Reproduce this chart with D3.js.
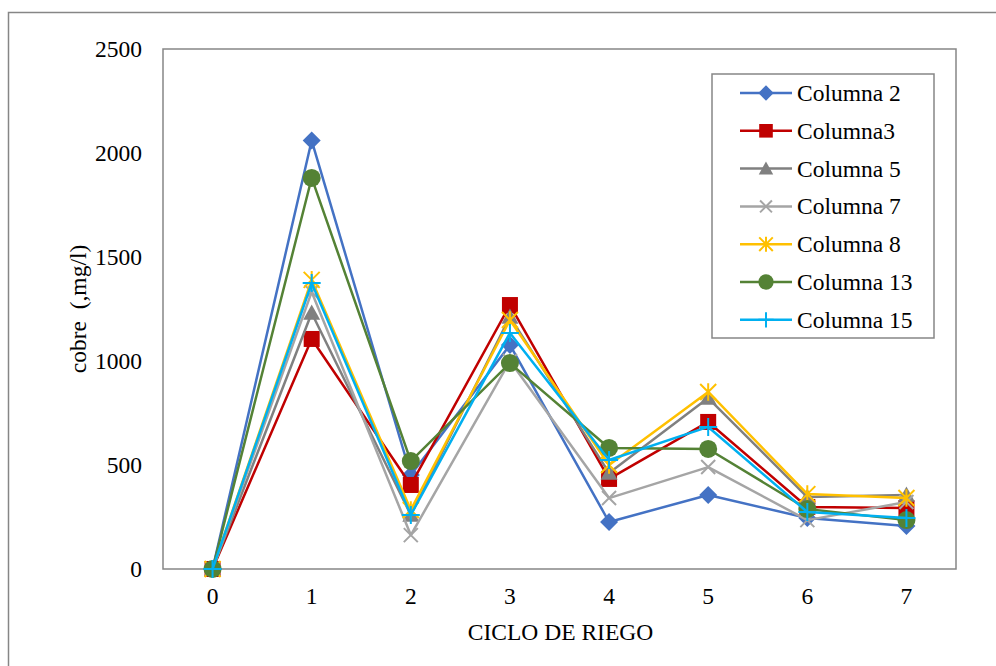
<!DOCTYPE html>
<html>
<head>
<meta charset="utf-8">
<script src="https://cdn.jsdelivr.net/npm/d3@7"></script>
<style>
  html, body { margin: 0; padding: 0; background: #fff; }
  svg { display: block; }
  text { font-family: "Liberation Serif", "Times New Roman", serif; fill: #000; }
</style>
</head>
<body>
<svg id="chart" width="996" height="666"></svg>
<script>
// Copper concentration per irrigation cycle
const cycles = [0, 1, 2, 3, 4, 5, 6, 7];
const yTicks = [0, 500, 1000, 1500, 2000, 2500];

const columna2  = [0, 2060, 452, 1077, 226, 356, 245, 207];
const columna3  = [0, 1106, 404, 1269, 433, 707, 298, 293];
const columna5  = [0, 1231, 260, 1212, 462, 822, 346, 356];
const columna7  = [0, 1332, 163, 1000, 341, 490, 235, 322];
const columna8  = [0, 1390, 284, 1197, 500, 851, 360, 341];
const columna13 = [0, 1880, 519, 990, 582, 577, 288, 235];
const columna15 = [0, 1375, 260, 1135, 524, 683, 274, 245];

const seriesNames = ["Columna 2", "Columna3", "Columna 5", "Columna 7", "Columna 8", "Columna 13", "Columna 15"];
const seriesValues = [columna2, columna3, columna5, columna7, columna8, columna13, columna15];
const seriesColors = ["#4472C4", "#C00000", "#808080", "#A5A5A5", "#FFC000", "#548235", "#00B0F0"];
const seriesMarkers = ["diamond", "square", "triangle", "x", "asterisk", "circle", "plus"];

const FONT = "23.5px";
const svg = d3.select("#chart");

// outer chart frame
svg.append("rect")
  .attr("x", 8.5).attr("y", 12.5).attr("width", 1000).attr("height", 700)
  .attr("fill", "none").attr("stroke", "#868686").attr("stroke-width", 1.5);

const plot = { left: 163, top: 49, right: 956, bottom: 569 };

const x = d3.scaleBand().domain(cycles).range([plot.left, plot.right]);
const y = d3.scaleLinear().domain([0, 2500]).range([plot.bottom, plot.top]);
const cx = d => x(d) + x.bandwidth() / 2;

// plot area border
svg.append("rect")
  .attr("x", plot.left).attr("y", plot.top)
  .attr("width", plot.right - plot.left).attr("height", plot.bottom - plot.top)
  .attr("fill", "none").attr("stroke", "#868686").attr("stroke-width", 1.5);

// axes (labels only, lines come from the border)
const yAxis = svg.append("g")
  .attr("transform", `translate(${plot.left},0)`)
  .call(d3.axisLeft(y).tickValues(yTicks).tickSize(0).tickPadding(21).tickFormat(d3.format("d")));
yAxis.select(".domain").remove();
yAxis.attr("font-family", null).attr("font-size", null);
yAxis.selectAll("text").style("font-size", FONT);

const xAxis = svg.append("g")
  .attr("transform", `translate(0,${plot.bottom})`)
  .call(d3.axisBottom(x).tickSize(0).tickPadding(18));
xAxis.select(".domain").remove();
xAxis.attr("font-family", null).attr("font-size", null);
xAxis.selectAll("text").style("font-size", FONT);

// axis titles
svg.append("text")
  .attr("transform", `translate(86,${(plot.top + plot.bottom) / 2}) rotate(-90)`)
  .attr("text-anchor", "middle")
  .style("font-size", FONT)
  .attr("xml:space", "preserve")
  .text("cobre  (,mg/l)");

svg.append("text")
  .attr("x", (plot.left + plot.right) / 2 + 1).attr("y", 640)
  .attr("text-anchor", "middle")
  .style("font-size", FONT)
  .text("CICLO DE RIEGO");

// marker drawing
function drawMarker(g, type, color, px, py, legend) {
  const s = legend ? 0.85 : 1;
  switch (type) {
    case "diamond": {
      const r = 9 * s;
      g.append("path").attr("d", `M${px},${py - r}L${px + r},${py}L${px},${py + r}L${px - r},${py}Z`)
        .attr("fill", color);
      break;
    }
    case "square":
      g.append("rect").attr("x", px - 8 * s).attr("y", py - 8 * s)
        .attr("width", 16 * s).attr("height", 16 * s).attr("fill", color);
      break;
    case "triangle": {
      const r = 8.5 * s;
      g.append("path").attr("d", `M${px},${py - r}L${px + r},${py + r * 0.8}L${px - r},${py + r * 0.8}Z`)
        .attr("fill", color);
      break;
    }
    case "circle":
      g.append("circle").attr("cx", px).attr("cy", py).attr("r", 9 * s).attr("fill", color);
      break;
    case "x": {
      const r = 7 * s;
      g.append("path").attr("d", `M${px - r},${py - r}L${px + r},${py + r}M${px - r},${py + r}L${px + r},${py - r}`)
        .attr("stroke", color).attr("stroke-width", 2).attr("fill", "none");
      break;
    }
    case "asterisk": {
      const r = 8 * s;
      g.append("path").attr("d", `M${px - r},${py - r}L${px + r},${py + r}M${px - r},${py + r}L${px + r},${py - r}M${px},${py - r * 1.1}L${px},${py + r * 1.1}`)
        .attr("stroke", color).attr("stroke-width", 2).attr("fill", "none");
      break;
    }
    case "plus": {
      const r = 9 * s;
      g.append("path").attr("d", `M${px - r},${py}L${px + r},${py}M${px},${py - r}L${px},${py + r}`)
        .attr("stroke", color).attr("stroke-width", 2).attr("fill", "none");
      break;
    }
  }
}

const line = d3.line().x((d, i) => cx(cycles[i])).y(d => y(d));

seriesValues.forEach((vals, si) => {
  const g = svg.append("g");
  g.append("path").datum(vals)
    .attr("d", line)
    .attr("fill", "none")
    .attr("stroke", seriesColors[si])
    .attr("stroke-width", 2.5)
    .attr("stroke-linejoin", "round");
  vals.forEach((v, i) => drawMarker(g, seriesMarkers[si], seriesColors[si], cx(cycles[i]), y(v), false));
});

// legend
const legend = svg.append("g");
legend.append("rect")
  .attr("x", 712).attr("y", 74).attr("width", 222).attr("height", 264)
  .attr("fill", "#fff").attr("stroke", "#868686").attr("stroke-width", 1.5);

seriesNames.forEach((name, i) => {
  const ly = 93 + i * 37.8;
  legend.append("line")
    .attr("x1", 740).attr("x2", 792).attr("y1", ly).attr("y2", ly)
    .attr("stroke", seriesColors[i]).attr("stroke-width", 2.5);
  drawMarker(legend, seriesMarkers[i], seriesColors[i], 766, ly, true);
  legend.append("text")
    .attr("x", 797).attr("y", ly + 8)
    .style("font-size", FONT)
    .text(name);
});
</script>
</body>
</html>
